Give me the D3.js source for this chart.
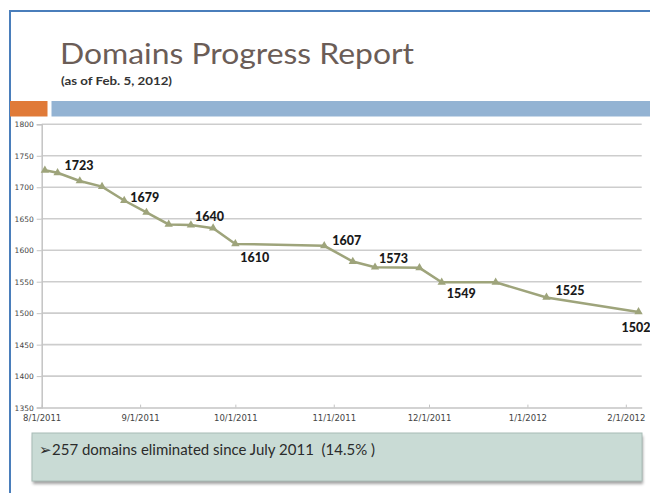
<!DOCTYPE html>
<html>
<head>
<meta charset="utf-8">
<script src="https://cdn.jsdelivr.net/npm/d3@7/dist/d3.min.js"></script>
<style>
  html, body { margin: 0; padding: 0; background: #ffffff; }
  svg { display: block; }
</style>
</head>
<body>
<svg id="chart" width="650" height="493"></svg>
<script>
// ---- data ----
const dates = ["2011-08-02","2011-08-06","2011-08-13","2011-08-20","2011-08-27",
               "2011-09-03","2011-09-10","2011-09-17","2011-09-24","2011-10-01",
               "2011-10-29","2011-11-07","2011-11-14","2011-11-28","2011-12-05",
               "2011-12-22","2012-01-07","2012-02-05"];
const domains = [1727,1723,1710,1701,1679,1660,1641,1640,1635,1610,
                 1607,1582,1573,1572,1549,1549,1525,1502];
const labeledPoints = [1,4,7,9,10,12,14,16,17];
const xTickLabels = ["8/1/2011","9/1/2011","10/1/2011","11/1/2011","12/1/2011","1/1/2012","2/1/2012"];
const yTicks = [1350,1400,1450,1500,1550,1600,1650,1700,1750,1800];
const titleText = "Domains Progress Report";
const subtitleText = "(as of Feb. 5, 2012)";
const noteArrow = "\u27A2";
const noteText = "257 domains eliminated since July 2011  (14.5% )";

// ---- layout (styling, not data) ----
const labelOffsets = {1:[7,-7],4:[6,-3],7:[4,-9],9:[5,14],10:[8,-5],12:[4,-9],14:[5,11],16:[9,-7],17:[-17,16]};

const parse = d3.timeParse("%Y-%m-%d");
const tickParse = d3.timeParse("%m/%d/%Y");
const pts = dates.map((d, i) => ({date: parse(d), value: domains[i], i}));

const svg = d3.select("#chart");

// frame
svg.append("line").attr("x1", 9).attr("x2", 650).attr("y1", 11).attr("y2", 11)
  .attr("stroke", "#4a7ebb").attr("stroke-width", 2);
svg.append("line").attr("x1", 10).attr("x2", 10).attr("y1", 10).attr("y2", 493)
  .attr("stroke", "#4a7ebb").attr("stroke-width", 2);

// title
svg.append("text").attr("x", 60).attr("y", 64)
  .attr("font-family", "Lato, 'Open Sans', sans-serif").attr("font-size", 29)
  .attr("fill", "#6b5d57").attr("textLength", 354).attr("lengthAdjust", "spacingAndGlyphs")
  .text(titleText);
svg.append("text").attr("x", 61).attr("y", 84.5)
  .attr("font-family", "Lato, sans-serif").attr("font-size", 11).attr("font-weight", "bold")
  .attr("fill", "#333").attr("textLength", 111).attr("lengthAdjust", "spacingAndGlyphs")
  .text(subtitleText);

// bars
svg.append("rect").attr("x", 10).attr("y", 101).attr("width", 37.5).attr("height", 15.5).attr("fill", "#e07a38");
svg.append("rect").attr("x", 51.5).attr("y", 101).attr("width", 600).attr("height", 15.5).attr("fill", "#93b3d3");

// scales
const x = d3.scaleTime()
  .domain([tickParse("8/1/2011"), tickParse("2/6/2012")])
  .range([41.7, 641.7]);
const y = d3.scaleLinear().domain([1350, 1800]).range([407.6, 124.3]);

// gridlines
const g = svg.append("g");
g.selectAll("line.grid").data(yTicks.filter(t => t > 1350)).join("line")
  .attr("class", "grid")
  .attr("x1", x.range()[0]).attr("x2", x.range()[1])
  .attr("y1", d => y(d)).attr("y2", d => y(d))
  .attr("stroke", "#cdcdcd").attr("stroke-width", 1.6);

// y axis
const yAxis = d3.axisLeft(y).tickValues(yTicks).tickSize(5).tickPadding(3).tickFormat(d3.format("d"));
const ya = svg.append("g").attr("transform", `translate(${x.range()[0]},0)`).call(yAxis);
ya.select(".domain").attr("stroke", "#c4c4c4").attr("stroke-width", 1.5);
ya.selectAll(".tick line").attr("stroke", "#c4c4c4");
ya.selectAll(".tick text").attr("font-family", "'DejaVu Sans', sans-serif").attr("font-size", 7.5).attr("fill", "#444");

// x axis
const xAxis = d3.axisBottom(x).tickValues(xTickLabels.map(tickParse)).tickSize(0).tickPadding(7)
  .tickFormat((d, i) => xTickLabels[i]);
const xa = svg.append("g").attr("transform", `translate(0,${y(1350)})`).call(xAxis);
xa.select(".domain").attr("stroke", "#c4c4c4").attr("stroke-width", 1.5);
xa.selectAll(".tick").append("line").attr("y1", 0).attr("y2", -3).attr("stroke", "#c4c4c4");
xa.selectAll(".tick text").attr("font-family", "'DejaVu Sans', sans-serif").attr("font-size", 8.5).attr("fill", "#444");

// line
const lineColor = "#9ea47b";
svg.append("path").datum(pts)
  .attr("d", d3.line().x(d => x(d.date)).y(d => y(d.value)))
  .attr("fill", "none").attr("stroke", lineColor).attr("stroke-width", 2.5);

svg.selectAll("path.marker").data(pts).join("path")
  .attr("class", "marker")
  .attr("transform", d => `translate(${x(d.date)},${y(d.value)})`)
  .attr("d", d3.symbol(d3.symbolTriangle, 30))
  .attr("fill", lineColor);

// data labels
svg.selectAll("text.dl").data(pts.filter(p => labeledPoints.includes(p.i))).join("text")
  .attr("class", "dl")
  .attr("x", d => x(d.date) + labelOffsets[d.i][0])
  .attr("y", d => y(d.value) + labelOffsets[d.i][1])
  .attr("dominant-baseline", "central")
  .attr("font-family", "Lato, sans-serif").attr("font-weight", "900").attr("font-size", 12.5)
  .attr("fill", "#1a1a1a")
  .text(d => d.value);

// note box
const defs = svg.append("defs");
defs.append("filter").attr("id", "blur").append("feGaussianBlur").attr("stdDeviation", 1.5);
svg.append("rect").attr("x", 33).attr("y", 436).attr("width", 610).attr("height", 48)
  .attr("fill", "#7a7a7a").attr("opacity", 0.7).attr("filter", "url(#blur)");
svg.append("rect").attr("x", 32).attr("y", 433).attr("width", 610).attr("height", 48)
  .attr("fill", "#c9dbd5").attr("stroke", "#a8bcb6").attr("stroke-width", 1);
const note = svg.append("text").attr("y", 454.5).attr("fill", "#2b2b2b")
  .style("white-space", "pre");
note.append("tspan").attr("x", 39).attr("font-family", "'DejaVu Sans', sans-serif").attr("font-size", 15)
  .text(noteArrow);
note.append("tspan").attr("x", 52).attr("font-family", "Lato, sans-serif").attr("font-size", 16)
  .attr("textLength", 323).attr("lengthAdjust", "spacingAndGlyphs")
  .text(noteText);
</script>
</body>
</html>
